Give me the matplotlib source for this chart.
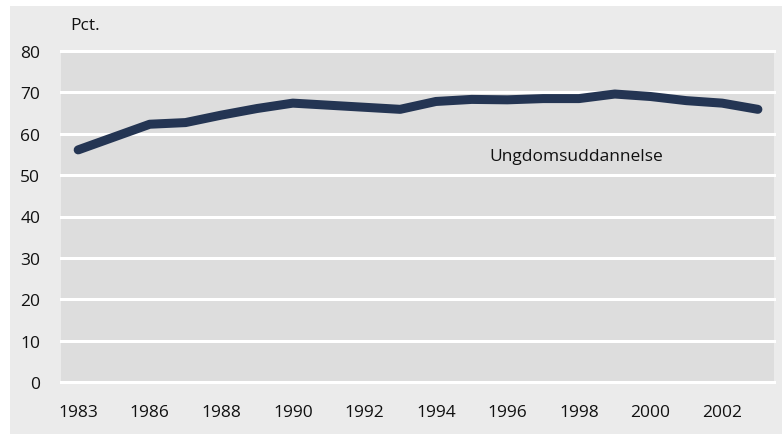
import matplotlib as mpl
mpl.use('Agg')

import matplotlib.pyplot as plt
from matplotlib.patches import Rectangle

plt.rcParams['font.family'] = ['Liberation Sans Narrow', 'Open Sans', 'DejaVu Sans']

# data
years = ['1983', '1985', '1986', '1987', '1988', '1989', '1990', '1991', '1992', '1993',
         '1994', '1995', '1996', '1997', '1998', '1999', '2000', '2001', '2002', '2003']
values = [56.1, 59.2, 62.3, 62.7, 64.5, 66.1, 67.4, 66.9, 66.4, 65.9,
          67.8, 68.3, 68.2, 68.5, 68.5, 69.6, 69.0, 68.0, 67.4, 65.9]
y_ticks = [0, 10, 20, 30, 40, 50, 60, 70, 80]
series_label = 'Ungdomsuddannelse'

fig = plt.figure(figsize=(7.82, 4.35), dpi=100)
fig.patch.set_facecolor('white')
fig.patches.append(Rectangle((10 / 782, 0), 1 - 10 / 782, 428 / 435,
                             transform=fig.transFigure, facecolor='#ebebeb',
                             edgecolor='none', zorder=-10))

ax = fig.add_axes([61 / 782, 52 / 435, (774 - 61) / 782, (383 - 52) / 435])
ax.set_facecolor('#dddddd')
for s in ax.spines.values():
    s.set_visible(False)

x = list(range(len(years)))
for yt in y_ticks:
    ax.axhline(yt, color='white', lw=2.2, zorder=1, clip_on=False)
ax.plot(x, values, color='#243553', lw=6.5, solid_capstyle='round',
        solid_joinstyle='round', zorder=3)

ax.set_xlim(-0.48, 19.45)
ax.set_ylim(0, 80)
ax.set_yticks(y_ticks)
ax.set_xticks(x[::2])
ax.set_xticklabels(years[::2])
ax.tick_params(axis='both', length=0, labelsize=12.5, colors='#111111')
ax.tick_params(axis='y', pad=15)
ax.tick_params(axis='x', pad=16)

ax.text(11.5, 54.6, series_label, fontsize=12.5, va='center', ha='left', color='#111111')
fig.text(70 / 782, 1 - 26 / 435, 'Pct.', fontsize=12.5, va='center', ha='left', color='#111111')

fig.savefig('out.png', dpi=100, facecolor=fig.get_facecolor())
